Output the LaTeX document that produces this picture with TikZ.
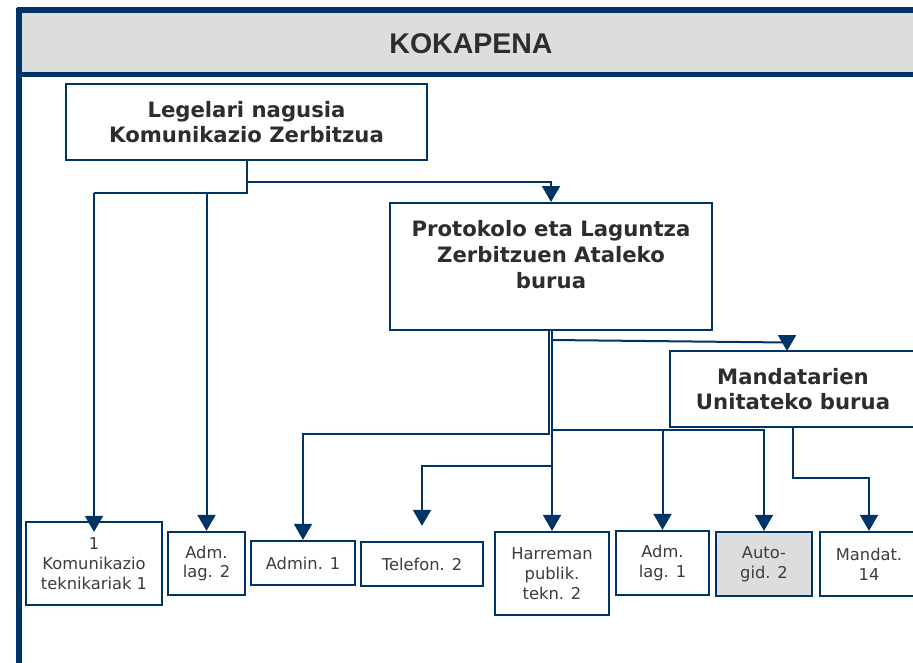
\documentclass[tikz,border=0pt]{standalone}
\usepackage{fontspec}
\setmainfont{DejaVu Sans}
\newfontfamily\titlefont{Liberation Sans}
\usetikzlibrary{arrows.meta}
\definecolor{navy}{RGB}{0,51,102}
\definecolor{hdrgray}{RGB}{221,221,221}
\definecolor{txt}{RGB}{45,45,45}
\definecolor{stafftxt}{RGB}{60,60,60}
\begin{document}
\begin{tikzpicture}[x=1pt,y=-1pt,
  frameline/.style={draw=navy,line width=5.5pt},
  headbox/.style={draw=navy,line width=2pt,fill=white,text=txt,
    font=\bfseries\fontsize{21.2}{25.5}\selectfont,align=center,inner sep=0pt},
  headtext/.style={text=txt,font=\bfseries\fontsize{21.2}{26}\selectfont,align=center,inner sep=0pt},
  staffbox/.style={draw=navy,line width=2.3pt,fill=white,text=stafftxt,
    font=\fontsize{16.3}{19.8}\selectfont,align=center,inner sep=0pt},
  link/.style={draw=navy,line width=2pt},
  arr/.style={link,-{Triangle[width=18pt,length=16pt]}}
]
\useasboundingbox (0,0) rectangle (913,662);
\clip (0,0) rectangle (913,662);

% header band
\fill[hdrgray] (19,10) rectangle (920,74);
\node[text=txt,font=\titlefont\bfseries\fontsize{28.5}{28.5}\selectfont] (title) at (471,44) {KOKAPENA};

% managers
\node[headbox,minimum width=361pt,minimum height=76pt] (leg) at (246.5,122)
  {Legelari nagusia\\Komunikazio Zerbitzua};
\node[headbox,minimum width=322pt,minimum height=127pt] (prot) at (551,266.5) {};
\node[headtext] (protlbl) at (551,255) {Protokolo eta Laguntza\\Zerbitzuen Ataleko\\burua};
\node[headbox,minimum width=246pt,minimum height=76pt] (mand) at (793,389)
  {Mandatarien\\Unitateko burua};

% staff
\node[staffbox,minimum width=136pt,minimum height=83pt] (kom) at (94,563.5)
  {1\\Komunikazio\\teknikariak 1};
\node[staffbox,minimum width=77pt,minimum height=63pt] (al2) at (206.5,563.5) {Adm.\\lag. 2};
\node[staffbox,minimum width=104pt,minimum height=44pt] (adm1) at (303,563) {Admin. 1};
\node[staffbox,minimum width=122pt,minimum height=44pt] (tel) at (422,564) {Telefon. 2};
\node[staffbox,minimum width=114pt,minimum height=83pt] (harr) at (552,573.5) {Harreman\\publik.\\tekn. 2};
\node[staffbox,minimum width=93pt,minimum height=64pt] (al1) at (662.5,563) {Adm.\\lag. 1};
\node[staffbox,minimum width=96pt,minimum height=64pt,fill=hdrgray] (auto) at (764,564) {Auto-\\gid. 2};
\node[staffbox,minimum width=98pt,minimum height=64pt] (md14) at (869,564) {Mandat.\\14};

% junction points
\coordinate (legdown) at (246.5,193);
\coordinate (legright) at (246.5,182);
\coordinate (komtop) at ([yshift=-11pt]kom.north);
\coordinate (protA) at (549,330);
\coordinate (protleft) at (549,434);
\coordinate (protright) at (552,430);
\coordinate (protmid) at (552,466);
\coordinate (protmand) at (552,340);
\coordinate (mandbend) at (787,342.5);
\coordinate (mandtop) at (787,351);
\coordinate (mandlow) at (793,478);
\coordinate (teltop) at ([yshift=15pt]tel.north);

% connectors from the service head
\draw[link] (leg.south) -- (legdown) -- (legdown -| kom.north);
\draw[arr] (legdown -| kom.north) -- (komtop);
\draw[arr] (legdown -| al2.north) -- (al2.north);
\draw[arr] (legright) -| (prot.south |- prot.north);

% connectors from the section head
\draw[arr] (prot.south -| harr.north) -- (harr.north);
\draw[arr] (protA) -- (protleft) -| (adm1.north);
\draw[arr] (protright) -| (auto.north);
\draw[arr] (protright -| al1.north) -- (al1.north);
\draw[arr] (protmid) -| (teltop);
\draw[link] (protmand) -- (mandbend);
\draw[arr] (mandbend) -- (mandtop);

% connector from the unit head
\draw[arr] (mand.south) -- (mandlow) -| (md14.north);

% frame
\draw[frameline] (16.5,10) -- (920,10);
\draw[frameline] (16.5,74.5) -- (920,74.5);
\draw[frameline] (19,7.5) -- (19,670);
\end{tikzpicture}
\end{document}
